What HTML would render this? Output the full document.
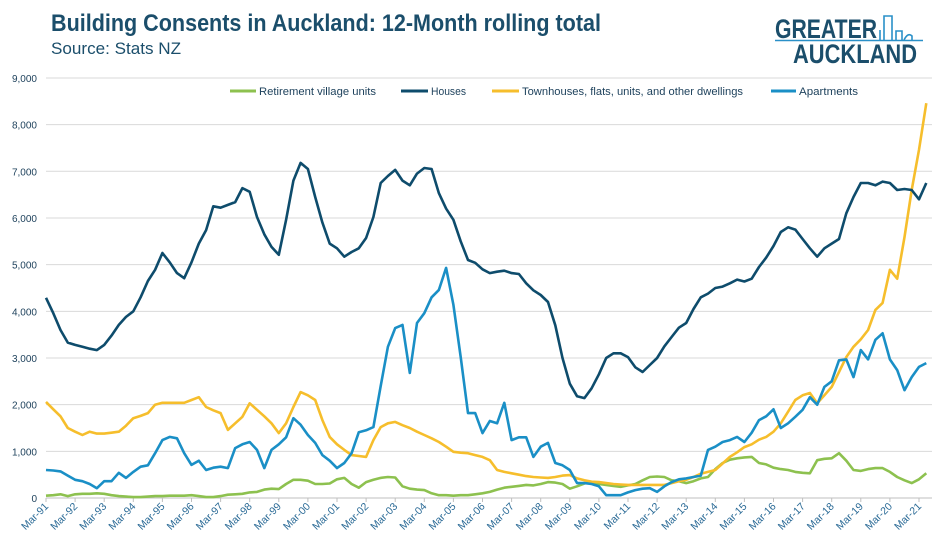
<!DOCTYPE html>
<html><head><meta charset="utf-8"><style>
html,body{margin:0;padding:0;background:#fff;width:948px;height:549px;overflow:hidden}
svg{display:block;font-family:"Liberation Sans",sans-serif}
</style></head><body>
<svg id="chart" width="948" height="549" viewBox="0 0 948 549">
<text x="51" y="31" font-size="24" font-weight="bold" fill="#1b4e6b" textLength="550" lengthAdjust="spacingAndGlyphs">Building Consents in Auckland: 12-Month rolling total</text>
<text x="51" y="54" font-size="17" fill="#1b4e6b" textLength="130" lengthAdjust="spacingAndGlyphs">Source: Stats NZ</text>
<g>
<text x="775" y="38" font-size="27" font-weight="bold" fill="#1b4e6b" textLength="102" lengthAdjust="spacingAndGlyphs">GREATER</text>
<line x1="775" y1="40.5" x2="923" y2="40.5" stroke="#2a90c8" stroke-width="1.5"/>
<path d="M880 40 V30 M884 40 V16 H892 V40 M896 40 V31 H902 V40 M904 40 Q908 32 912 36 V40" stroke="#2a90c8" stroke-width="1.6" fill="none"/>
<text x="793" y="63" font-size="27" font-weight="bold" fill="#1b4e6b" textLength="124" lengthAdjust="spacingAndGlyphs">AUCKLAND</text>
</g>
<g id="grid"></g><g id="yticks"></g><g id="xticks"></g>
<g font-size="11" fill="#1b3f5a">
<g><line x1="230" y1="91" x2="256" y2="91" stroke="#8dc14f" stroke-width="3"/><text x="259" y="95" textLength="117" lengthAdjust="spacingAndGlyphs">Retirement village units</text></g>
<g><line x1="401" y1="91" x2="428" y2="91" stroke="#0e4c6c" stroke-width="3"/><text x="431" y="95" textLength="35" lengthAdjust="spacingAndGlyphs">Houses</text></g>
<g><line x1="492" y1="91" x2="519" y2="91" stroke="#f6be2c" stroke-width="3"/><text x="522" y="95" textLength="221" lengthAdjust="spacingAndGlyphs">Townhouses, flats, units, and other dwellings</text></g>
<g><line x1="771" y1="91" x2="796" y2="91" stroke="#1a8fc6" stroke-width="3"/><text x="799" y="95" textLength="59" lengthAdjust="spacingAndGlyphs">Apartments</text></g>
</g>
<g id="series"></g>
</svg>
<script>
const yTicks=[0,1000,2000,3000,4000,5000,6000,7000,8000,9000];
const yearLabels=["Mar-91","Mar-92","Mar-93","Mar-94","Mar-95","Mar-96","Mar-97","Mar-98","Mar-99","Mar-00","Mar-01","Mar-02","Mar-03","Mar-04","Mar-05","Mar-06","Mar-07","Mar-08","Mar-09","Mar-10","Mar-11","Mar-12","Mar-13","Mar-14","Mar-15","Mar-16","Mar-17","Mar-18","Mar-19","Mar-20","Mar-21"];
const houses=[4290,3960,3600,3330,3280,3240,3200,3170,3280,3480,3710,3880,4000,4300,4650,4890,5250,5050,4820,4710,5050,5450,5740,6250,6220,6280,6340,6640,6560,6020,5650,5380,5210,5960,6800,7180,7050,6450,5900,5450,5350,5170,5270,5350,5570,6020,6750,6900,7030,6800,6700,6950,7070,7050,6530,6200,5960,5500,5100,5040,4900,4820,4850,4870,4820,4800,4600,4450,4350,4200,3700,3000,2450,2180,2140,2350,2650,3000,3100,3100,3020,2800,2700,2850,3000,3250,3450,3650,3750,4050,4300,4380,4500,4530,4600,4680,4640,4700,4950,5150,5400,5700,5800,5750,5550,5350,5170,5350,5450,5550,6100,6450,6750,6750,6700,6780,6750,6600,6620,6600,6400,6750];
const townhouses=[2060,1900,1750,1500,1420,1350,1420,1380,1380,1400,1420,1550,1710,1760,1820,2000,2040,2040,2040,2040,2100,2160,1950,1880,1820,1460,1600,1740,2030,1890,1750,1600,1390,1600,1950,2270,2200,2100,1670,1310,1150,1030,920,900,880,1240,1520,1600,1630,1560,1500,1420,1350,1280,1200,1100,990,970,960,920,880,810,600,560,530,500,470,450,440,430,450,480,490,420,380,350,340,320,300,290,280,280,280,280,280,280,320,360,390,450,520,560,600,740,880,980,1090,1150,1250,1310,1420,1600,1850,2100,2200,2250,2030,2200,2380,2700,3020,3240,3400,3600,4030,4180,4890,4700,5590,6600,7460,8460];
const apartments=[600,590,570,480,390,360,300,210,360,360,540,430,560,670,700,960,1240,1310,1280,960,710,800,600,650,670,640,1070,1150,1200,1030,640,1030,1150,1300,1710,1570,1350,1180,920,800,640,750,960,1410,1450,1520,2400,3240,3640,3710,2680,3750,3960,4300,4460,4930,4140,3020,1820,1820,1390,1650,1600,2040,1240,1300,1300,880,1100,1180,750,700,600,320,320,300,250,60,60,60,120,170,200,210,130,250,340,400,420,450,480,1030,1100,1200,1240,1310,1200,1400,1670,1750,1900,1500,1600,1740,1890,2160,2000,2380,2500,2950,2970,2590,3170,2970,3390,3530,2970,2740,2310,2590,2810,2890];
const retirement=[50,60,80,40,80,90,90,100,90,60,40,30,20,20,30,40,40,50,50,50,60,40,20,20,40,70,80,90,120,130,180,200,190,300,390,390,370,300,300,310,400,430,300,220,340,390,430,450,440,250,200,180,170,100,60,60,50,60,60,80,100,130,180,220,240,260,280,270,300,340,330,300,200,250,310,340,300,280,260,240,270,300,380,450,460,450,380,360,320,360,420,450,620,750,820,850,870,880,750,720,650,620,600,560,540,530,810,840,850,960,800,600,580,620,640,640,560,450,380,320,400,530];

const X0=46, YEARW=29.1, Y0=498, PXPER=46.67/1000;
function xq(i){return X0+i*YEARW/4;}
function xy(i){return X0+i*YEARW;}
function yv(v){return Y0-v*PXPER;}
const NS="http://www.w3.org/2000/svg";
function mk(tag,attrs,parent){const e=document.createElementNS(NS,tag);for(const k in attrs)e.setAttribute(k,attrs[k]);parent.appendChild(e);return e;}
const grid=document.getElementById('grid'),yt=document.getElementById('yticks'),xt=document.getElementById('xticks'),ser=document.getElementById('series');
yTicks.forEach(v=>{
  const l=mk('line',{x1:X0,x2:932,y1:yv(v),y2:yv(v),stroke:v===0?'#bfbfbf':'#d9d9d9','stroke-width':1},grid);
  
  
  const t=mk('text',{x:37,y:yv(v)+4,'text-anchor':'end','font-size':10,fill:'#1b3f5a'},yt);
  t.textContent=v.toLocaleString('en-US');
  
  
});
yearLabels.forEach((s,i)=>{
  const x=xy(i);
  mk('line',{x1:x,x2:x,y1:Y0,y2:Y0+4,stroke:'#bfbfbf'},xt);
  const t=mk('text',{x:x+3,y:Y0+9,'text-anchor':'end','font-size':10.5,fill:'#2a6a96',transform:`rotate(-45 ${x+3} ${Y0+9})`},xt);
  t.textContent=s;
  
  
});
function line(arr,color,name){
  const d=arr.map((v,i)=>(i?'L':'M')+xq(i).toFixed(1)+' '+yv(v).toFixed(1)).join(' ');
  const p=mk('path',{d:d,fill:'none',stroke:color,'stroke-width':2.6,'stroke-linejoin':'round'},ser);
  
  
}
line(retirement,'#8dc14f','retirement-line');
line(townhouses,'#f6be2c','townhouses-line');
line(apartments,'#1a8fc6','apartments-line');
line(houses,'#0e4c6c','houses-line');
</script>
</body></html>
